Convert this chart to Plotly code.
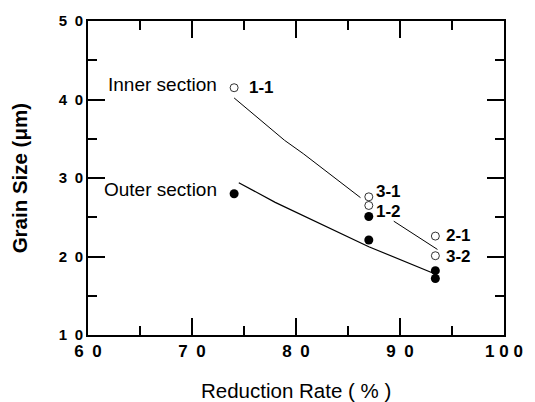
import plotly.graph_objects as go

# Data
inner_x = [74.05, 87.0, 87.0, 93.4, 93.4]
inner_y = [41.5, 27.6, 26.5, 22.6, 20.1]
inner_labels = ["1-1", "3-1", "1-2", "2-1", "3-2"]

outer_x = [74.05, 87.0, 87.0, 93.4, 93.4]
outer_y = [28.0, 25.1, 22.1, 18.2, 17.2]

inner_fit_x = [74.05, 78.9, 80.7, 86.2, None, 89.4, 93.6]
inner_fit_y = [40.2, 34.8, 33.1, 27.5, None, 24.5, 20.9]

outer_fit_x = [74.5, 78.0, 87.0, 93.5]
outer_fit_y = [29.4, 26.9, 21.25, 17.7]

x_ticks = [60, 70, 80, 90, 100]
x_ticktext = ["6\u20020", "7\u20020", "8\u20020", "9\u20020", "1 0 0"]
y_ticks = [10, 20, 30, 40, 50]
y_ticktext = ["1\u20020", "2\u20020", "3\u20020", "4\u20020", "5\u20020"]

FONT = "Liberation Sans, Arial, Helvetica, sans-serif"

fig = go.Figure()
fig.add_trace(go.Scatter(x=inner_fit_x, y=inner_fit_y, mode="lines",
                         line=dict(color="black", width=1), connectgaps=False,
                         showlegend=False, hoverinfo="skip"))
fig.add_trace(go.Scatter(x=outer_fit_x, y=outer_fit_y, mode="lines",
                         line=dict(color="black", width=1.2),
                         showlegend=False, hoverinfo="skip"))
fig.add_trace(go.Scatter(x=inner_x, y=inner_y, mode="markers",
                         marker=dict(symbol="circle-open", size=8, color="black",
                                     line=dict(width=0.8, color="black")),
                         showlegend=False))
fig.add_trace(go.Scatter(x=outer_x, y=outer_y, mode="markers",
                         marker=dict(symbol="circle", size=9, color="black"),
                         showlegend=False))

# point labels
label_pos = {"1-1": (75.3, 41.5), "3-1": (87.5, 28.3), "1-2": (87.5, 25.7),
             "2-1": (94.2, 22.7), "3-2": (94.2, 20.0)}
for lab in inner_labels:
    lx, ly = label_pos[lab]
    fig.add_annotation(x=lx, y=ly, text=lab, showarrow=False, xanchor="left",
                       yanchor="middle",
                       font=dict(family=FONT, size=17, color="black", weight="bold"))

fig.add_annotation(x=72.6, y=41.9, text="Inner section", showarrow=False,
                   xanchor="right", yanchor="middle",
                   font=dict(family=FONT, size=19, color="black"))
fig.add_annotation(x=72.6, y=28.5, text="Outer section", showarrow=False,
                   xanchor="right", yanchor="middle",
                   font=dict(family=FONT, size=19, color="black"))

# axis titles
fig.add_annotation(xref="paper", yref="paper", x=0.5, y=-0.176,
                   text="Reduction Rate ( % )", showarrow=False,
                   xanchor="center", yanchor="middle",
                   font=dict(family=FONT, size=20.5, color="black"))
fig.add_annotation(xref="paper", yref="paper", x=-0.165, y=0.5,
                   text="Grain Size (μm)", showarrow=False, textangle=-90,
                   xanchor="center", yanchor="middle",
                   font=dict(family=FONT, size=20.5, color="black", weight="bold"))

axis_common = dict(showgrid=False, zeroline=False, showline=True, linecolor="black",
                   linewidth=2, mirror="ticks", ticks="inside", ticklen=17,
                   tickwidth=1.5, tickcolor="black", ticklabeloverflow="allow",
                   minor=dict(ticks="inside", ticklen=9, tickwidth=1.5,
                              tickcolor="black", dtick=5, showgrid=False))

fig.update_xaxes(range=[60, 100], tickvals=x_ticks, ticktext=x_ticktext,
                 tickfont=dict(family=FONT, size=17, color="black", weight="bold"),
                 **axis_common)
fig.update_yaxes(range=[10, 50], tickvals=y_ticks, ticktext=y_ticktext,
                 tickfont=dict(family=FONT, size=15, color="black", weight="bold"),
                 **axis_common)

fig.update_layout(width=535, height=402, margin=dict(l=88, r=19, t=15, b=67),
                  plot_bgcolor="white", paper_bgcolor="white", showlegend=False)

fig.write_html("out.html", config={"displayModeBar": False},
               post_script="document.body.style.margin='0';document.body.style.padding='0';document.body.style.overflow='hidden';")
